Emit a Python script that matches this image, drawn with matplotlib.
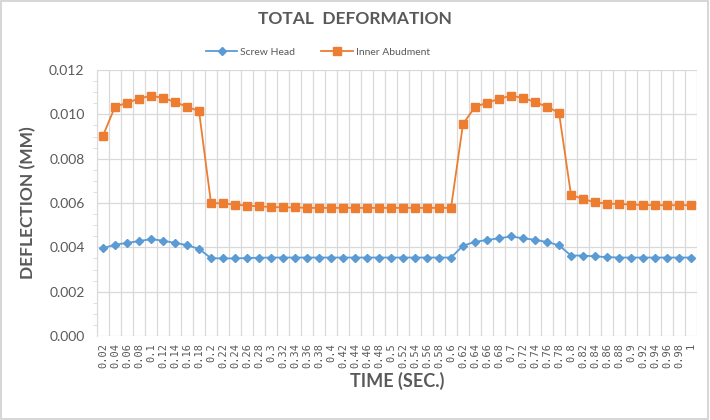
import numpy as np
import matplotlib
matplotlib.use("Agg")
import matplotlib.pyplot as plt
from matplotlib.patches import Rectangle
from matplotlib.ticker import MultipleLocator, FixedLocator, FormatStrFormatter

times = [0.02, 0.04, 0.06, 0.08, 0.1, 0.12, 0.14, 0.16, 0.18, 0.2,
         0.22, 0.24, 0.26, 0.28, 0.3, 0.32, 0.34, 0.36, 0.38, 0.4,
         0.42, 0.44, 0.46, 0.48, 0.5, 0.52, 0.54, 0.56, 0.58, 0.6,
         0.62, 0.64, 0.66, 0.68, 0.7, 0.72, 0.74, 0.76, 0.78, 0.8,
         0.82, 0.84, 0.86, 0.88, 0.9, 0.92, 0.94, 0.96, 0.98, 1]

screw_head = [0.00396, 0.00412, 0.00420, 0.00428, 0.00437, 0.00430, 0.00420, 0.00410, 0.00393, 0.00351,
              0.00350, 0.00350, 0.00352, 0.00353, 0.00354, 0.00354, 0.00354, 0.00354, 0.00354, 0.00354,
              0.00354, 0.00354, 0.00354, 0.00354, 0.00354, 0.00354, 0.00354, 0.00354, 0.00354, 0.00354,
              0.00407, 0.00425, 0.00433, 0.00441, 0.00449, 0.00441, 0.00434, 0.00424, 0.00409, 0.00363,
              0.00363, 0.00359, 0.00356, 0.00354, 0.00354, 0.00354, 0.00354, 0.00354, 0.00354, 0.00354]

inner_abutment = [0.00904, 0.01034, 0.01052, 0.01071, 0.01084, 0.01074, 0.01056, 0.01034, 0.01015, 0.00600,
                  0.00598, 0.00593, 0.00588, 0.00585, 0.00582, 0.00580, 0.00580, 0.00578, 0.00578, 0.00578,
                  0.00578, 0.00578, 0.00578, 0.00578, 0.00578, 0.00578, 0.00578, 0.00578, 0.00578, 0.00578,
                  0.00956, 0.01034, 0.01052, 0.01070, 0.01084, 0.01074, 0.01056, 0.01034, 0.01007, 0.00637,
                  0.00618, 0.00603, 0.00597, 0.00596, 0.00593, 0.00591, 0.00590, 0.00590, 0.00590, 0.00590]

labels = [f"{t:g}" for t in times]

plt.rcParams['font.family'] = ['Lato', 'DejaVu Sans']
gray = "#595959"

fig = plt.figure(figsize=(7.1, 4.2), dpi=100)
fig.patches.append(Rectangle((0.002, 0.003), 0.995, 0.994, transform=fig.transFigure,
                             fill=False, edgecolor="#d0d0d0", linewidth=1.2))
ax = fig.add_axes([97/710, 1-336/420, 600/710, 266/420])

x = np.arange(len(times))
ax.plot(x, screw_head, color="#5B9BD5", marker="D", markersize=4.2, linewidth=1.3,
        label="Screw Head", zorder=3)
ax.plot(x, inner_abutment, color="#ED7D31", marker="s", markersize=6, linewidth=1.3,
        label="Inner Abudment", zorder=3)

ax.set_xlim(-0.5, len(times) - 0.5)
ax.set_ylim(0, 0.012)
ax.yaxis.set_major_locator(MultipleLocator(0.002))
ax.yaxis.set_minor_locator(MultipleLocator(0.0005))
ax.yaxis.set_major_formatter(FormatStrFormatter("%.3f"))
ax.tick_params(axis='y', labelsize=10, labelcolor=gray)
ax.set_xticks(x)
ax.set_xticklabels(labels, rotation=90, fontsize=7.5, color=gray, family="DejaVu Sans Mono")
ax.xaxis.set_minor_locator(FixedLocator(np.arange(-0.5, len(times), 1.0)))
ax.tick_params(axis='x', which='major', length=0, pad=5)
ax.tick_params(axis='x', which='minor', length=0)
ax.tick_params(axis='y', which='major', length=0, pad=9)
ax.tick_params(axis='y', which='minor', length=3, color="#d9d9d9", direction="out")

ax.grid(True, axis='y', which='major', color="#d9d9d9", linewidth=0.9)
ax.grid(True, axis='x', which='minor', color="#d9d9d9", linewidth=0.9)
ax.set_axisbelow(True)
for s in ["top", "right", "bottom"]:
    ax.spines[s].set_visible(False)
ax.spines["left"].set_color("#d9d9d9")

ax.set_xlabel("TIME (SEC.)", fontsize=13, fontweight="bold", color=gray, labelpad=3)
ax.set_ylabel("DEFLECTION (MM)", fontsize=12.5, fontweight="bold", color=gray, labelpad=9)

fig.text(0.5, 1-19/420, "TOTAL  DEFORMATION", ha="center", va="center", fontsize=12.5,
         fontweight="bold", color=gray)
fig.legend(loc="center", bbox_to_anchor=(318/710, 1-52/420), ncol=2, frameon=False,
           fontsize=7.5, handlelength=3, columnspacing=2.5, handletextpad=0.3,
           labelcolor=gray)

fig.savefig("out.png", dpi=100)
